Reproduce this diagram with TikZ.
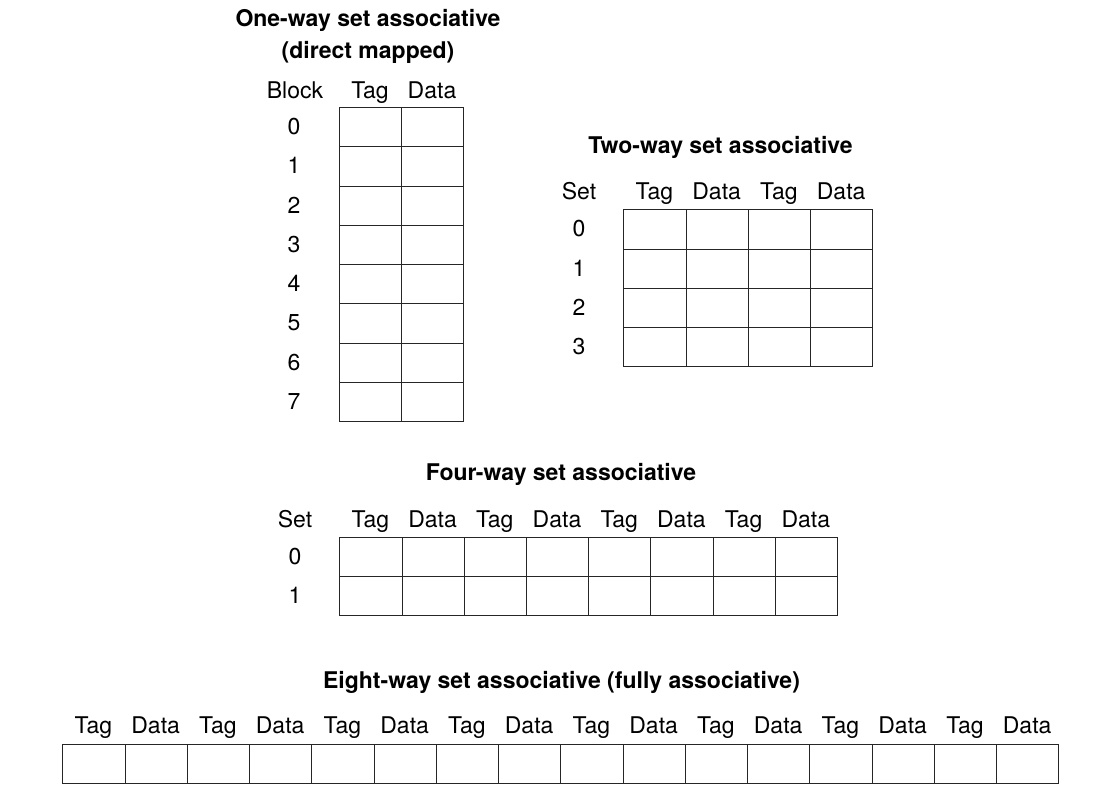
\documentclass[tikz,border=0pt]{standalone}
\usepackage{fontspec}
\setmainfont{TeX Gyre Heros}
\tikzset{
  cell/.style={draw=black!85, line width=1.1pt, inner sep=0pt, anchor=north west},
  lbl/.style={anchor=base, inner sep=0pt, font=\fontsize{23}{27}\selectfont},
  ttl/.style={anchor=base, inner sep=0pt, font=\fontsize{23}{27}\selectfont\bfseries},
}
\begin{document}
\begin{tikzpicture}[x=1pt,y=-1pt]
\useasboundingbox (0,0) rectangle (1107,798);
% ---------- One-way ----------
\node[ttl] (t1a) at (368,26) {One-way set associative};
\node[ttl] (t1b) at (368,58) {(direct mapped)};
\node[lbl] (ow-block) at (295,98) {Block};
\foreach \t [count=\c from 0] in {Tag,Data}
  \node[lbl] (ow-h\c) at ({370+62*\c},98) {\t};
\foreach \r in {0,...,7} {
  \node[lbl] (ow-n\r) at (294,{107+39.25*\r+27.5}) {\r};
  \foreach \c in {0,1}
    \node[cell, minimum width=62pt, minimum height=39.25pt] (ow-\r-\c) at ({339+62*\c},{107+39.25*\r}) {};
}
% ---------- Two-way ----------
\node[ttl] (t2) at (720.5,153) {Two-way set associative};
\node[lbl] (tw-set) at (579,199) {Set};
\foreach \c in {0,...,3}
  \node[lbl] (tw-h\c) at ({623.3+62.25*\c+31.1},199) {\ifodd\c Data\else Tag\fi};
\foreach \r in {0,...,3} {
  \node[lbl] (tw-n\r) at (579,{209.3+39.2*\r+27.5}) {\r};
  \foreach \c in {0,...,3}
    \node[cell, minimum width=62.25pt, minimum height=39.2pt] (tw-\r-\c) at ({623.3+62.25*\c},{209.3+39.2*\r}) {};
}
% ---------- Four-way ----------
\node[ttl] (t4) at (561,480) {Four-way set associative};
\node[lbl] (fw-set) at (295,527) {Set};
\foreach \c in {0,...,7}
  \node[lbl] (fw-h\c) at ({339.3+62.2*\c+31.1},527) {\ifodd\c Data\else Tag\fi};
\foreach \r in {0,1} {
  \node[lbl] (fw-n\r) at (295,{536.7+39.3*\r+27.5}) {\r};
  \foreach \c in {0,...,7}
    \node[cell, minimum width=62.2pt, minimum height=39.3pt] (fw-\r-\c) at ({339.3+62.2*\c},{536.7+39.3*\r}) {};
}
% ---------- Eight-way ----------
\node[ttl] (t8) at (561.5,688) {Eight-way set associative (fully associative)};
\foreach \c in {0,...,15} {
  \node[lbl] (ew-h\c) at ({62.3+62.25*\c+31.1},733.5) {\ifodd\c Data\else Tag\fi};
  \node[cell, minimum width=62.25pt, minimum height=38.7pt] (ew-\c) at ({62.3+62.25*\c},744.3) {};
}
\end{tikzpicture}
\end{document}
